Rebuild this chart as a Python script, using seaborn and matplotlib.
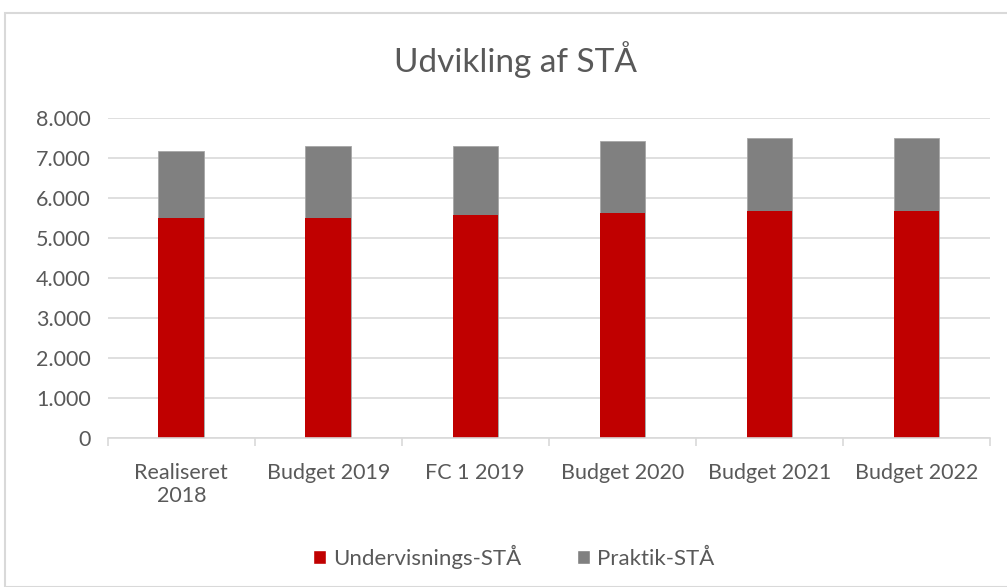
import numpy as np
import pandas as pd
import matplotlib
matplotlib.use("Agg")
import matplotlib.pyplot as plt
import seaborn as sns
from matplotlib.patches import Patch, Rectangle
from matplotlib.ticker import FuncFormatter, FixedLocator

# data
categories = ["Realiseret\n2018", "Budget 2019", "FC 1 2019", "Budget 2020", "Budget 2021", "Budget 2022"]
undervisning = [5490, 5490, 5570, 5630, 5670, 5670]
praktik = [1680, 1810, 1730, 1790, 1830, 1830]

RED = "#C00000"
GREY = "#808080"
TXT = "#595959"

df = pd.DataFrame({"cat": categories, "Undervisnings-STÅ": undervisning, "Praktik-STÅ": praktik})
df["total"] = df["Undervisnings-STÅ"] + df["Praktik-STÅ"]

sns.set_theme(style="white")
plt.rcParams["font.family"] = ["Lato", "DejaVu Sans"]

fig = plt.figure(figsize=(10.07, 5.87), dpi=100)
ax = fig.add_axes([0.107, 0.254, 0.876, 0.545])

# stacked: total in grey, red part drawn on top
sns.barplot(data=df, x="cat", y="total", color=GREY, width=0.31, ax=ax, saturation=1,
            edgecolor="#A6A6A6", linewidth=0.6)
sns.barplot(data=df, x="cat", y="Undervisnings-STÅ", color=RED, width=0.31, ax=ax, saturation=1,
            linewidth=0)

ax.set_ylim(0, 8000)
ax.set_xlim(-0.5, len(categories) - 0.5)
ax.set_yticks(np.arange(0, 8001, 1000))
ax.yaxis.set_major_formatter(FuncFormatter(lambda v, p: f"{int(v):,}".replace(",", ".")))
ax.yaxis.grid(True, color="#D9D9D9", linewidth=1.2)
ax.set_axisbelow(True)
ax.set_xlabel("")
ax.set_ylabel("")

for s in ["top", "right", "left"]:
    ax.spines[s].set_visible(False)
ax.spines["bottom"].set_color("#D9D9D9")
ax.spines["bottom"].set_linewidth(1.2)

ax.tick_params(axis="y", length=0, labelsize=15.5, labelcolor=TXT, pad=12)
ax.tick_params(axis="x", which="major", length=0, labelsize=15.5, labelcolor=TXT, pad=18)
ax.xaxis.set_minor_locator(FixedLocator(np.arange(-0.5, len(categories), 1.0)))
ax.tick_params(axis="x", which="minor", length=6, color="#D9D9D9", width=1.2, bottom=True)

fig.suptitle("Udvikling af STÅ", fontsize=24, color=TXT, x=0.512, y=0.898, va="center")

handles = [Patch(facecolor=RED, label="Undervisnings-STÅ"),
           Patch(facecolor=GREY, label="Praktik-STÅ")]
fig.legend(handles=handles, loc="center", bbox_to_anchor=(0.51, 0.051), ncol=2, frameon=False,
           fontsize=16, labelcolor=TXT, handlelength=0.6, handleheight=0.6, handletextpad=0.3,
           columnspacing=2.5)

# outer chart border
fig.patches.append(Rectangle((0.005, 0.0), 1.2, 0.978, transform=fig.transFigure,
                             fill=False, edgecolor="#D9D9D9", linewidth=1.5))

fig.savefig("out.png", dpi=100, facecolor="white")
